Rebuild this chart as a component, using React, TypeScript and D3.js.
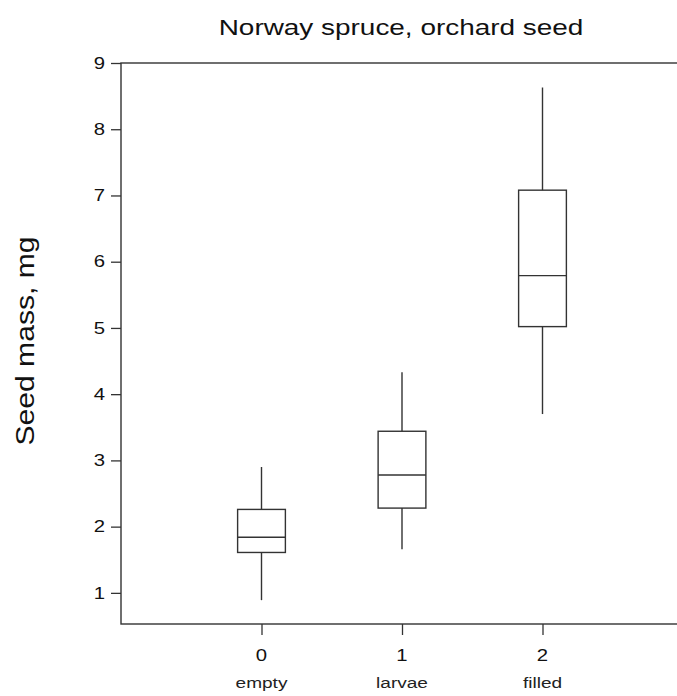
import * as d3 from "d3";
import { useEffect, useRef } from "react";

const codes = [0, 1, 2];
const groups = ["empty", "larvae", "filled"];
const whiskerLow = [0.89, 1.66, 3.7];
const q1 = [1.61, 2.28, 5.02];
const median = [1.84, 2.78, 5.79];
const q3 = [2.26, 3.44, 7.08];
const whiskerHigh = [2.9, 4.33, 8.63];
const yTicks = [1, 2, 3, 4, 5, 6, 7, 8, 9];

const width = 677;
const height = 696;
const ink = "#333";
const font = "Liberation Sans, Arial, sans-serif";
const stretch = 1.27; // the source picture is a little wider than tall

export default function App() {
  const svgRef = useRef<SVGSVGElement | null>(null);

  useEffect(() => {
    if (!svgRef.current) return;
    const svg = d3.select(svgRef.current);
    svg.selectAll("*").remove();

    const left = 121;
    const right = 683;
    const top = 63;
    const bottom = 624;

    const x = d3.scaleLinear().domain([-1, 3]).range([left, right]);
    const y = d3.scaleLinear().domain([0.53, 9]).range([bottom, top]);
    const boxW = 0.34;

    // frame
    svg.append("rect")
      .attr("x", left)
      .attr("y", top)
      .attr("width", right - left)
      .attr("height", bottom - top)
      .attr("fill", "none")
      .attr("stroke", ink)
      .attr("stroke-width", 1.4);

    // y axis ticks
    const gy = svg.append("g")
      .attr("transform", `translate(${left},0)`)
      .call(d3.axisLeft(y).tickValues(yTicks).tickSize(10).tickSizeOuter(0).tickFormat(() => ""));
    gy.select(".domain").remove();
    gy.selectAll("line").attr("stroke", ink).attr("stroke-width", 1.3);

    svg.append("g")
      .selectAll("text")
      .data(yTicks)
      .enter()
      .append("text")
      .attr("transform", d => `translate(105,${y(d)}) scale(${stretch},1)`)
      .attr("dy", "0.36em")
      .attr("text-anchor", "end")
      .attr("font-family", font)
      .attr("font-size", 16)
      .attr("fill", "#111")
      .text(d => d);

    // x axis ticks
    const gx = svg.append("g")
      .attr("transform", `translate(0,${bottom})`)
      .call(d3.axisBottom(x).tickValues(codes).tickSize(11).tickSizeOuter(0).tickFormat(() => ""));
    gx.select(".domain").remove();
    gx.selectAll("line").attr("stroke", ink).attr("stroke-width", 1.3);

    svg.append("g")
      .selectAll("text")
      .data(codes)
      .enter()
      .append("text")
      .attr("transform", d => `translate(${x(d)},661) scale(${stretch},1)`)
      .attr("text-anchor", "middle")
      .attr("font-family", font)
      .attr("font-size", 16)
      .attr("fill", "#111")
      .text(d => d);

    // group names under tick labels
    svg.append("g")
      .selectAll("text")
      .data(groups)
      .enter()
      .append("text")
      .attr("transform", (_, i) => `translate(${x(codes[i])},688) scale(${stretch},1)`)
      .attr("text-anchor", "middle")
      .attr("font-family", font)
      .attr("font-size", 15)
      .attr("fill", "#222")
      .text(d => d);

    // boxes
    const g = svg.append("g").attr("stroke", ink).attr("stroke-width", 1.4).attr("fill", "none");
    codes.forEach((c, i) => {
      const cx = x(c);
      const x0 = x(c - boxW / 2);
      const x1 = x(c + boxW / 2);
      g.append("line").attr("x1", cx).attr("x2", cx).attr("y1", y(whiskerHigh[i])).attr("y2", y(q3[i]));
      g.append("line").attr("x1", cx).attr("x2", cx).attr("y1", y(q1[i])).attr("y2", y(whiskerLow[i]));
      g.append("rect")
        .attr("x", x0)
        .attr("y", y(q3[i]))
        .attr("width", x1 - x0)
        .attr("height", y(q1[i]) - y(q3[i]));
      g.append("line").attr("x1", x0).attr("x2", x1).attr("y1", y(median[i])).attr("y2", y(median[i]));
    });

    // title
    svg.append("text")
      .attr("transform", `translate(401,35) scale(${stretch},1)`)
      .attr("text-anchor", "middle")
      .attr("font-family", font)
      .attr("font-size", 22)
      .attr("fill", "#111")
      .text("Norway spruce, orchard seed");

    // y label
    svg.append("text")
      .attr("transform", `translate(34,341) rotate(-90)`)
      .attr("text-anchor", "middle")
      .attr("font-family", font)
      .attr("font-size", 26)
      .attr("textLength", 209)
      .attr("lengthAdjust", "spacingAndGlyphs")
      .attr("fill", "#111")
      .text("Seed mass, mg");
  }, []);

  return (
    <div style={{ position: "absolute", left: 0, top: 0, width, height, overflow: "hidden", background: "#fff" }}>
      <svg ref={svgRef} width={width} height={height}></svg>
    </div>
  );
}
